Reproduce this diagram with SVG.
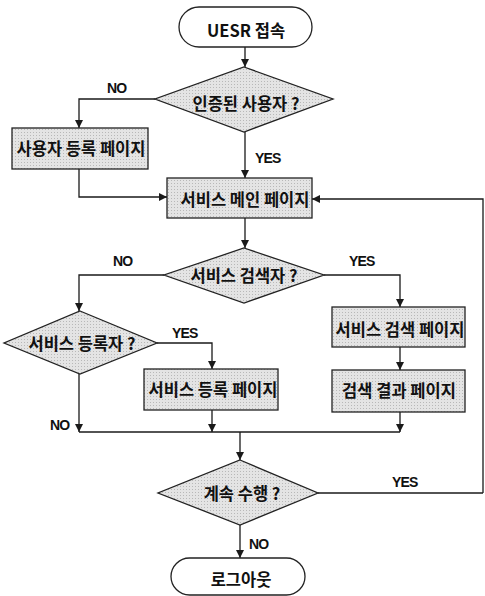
<svg xmlns="http://www.w3.org/2000/svg" width="485" height="596" viewBox="0 0 485 596">
<defs>
<pattern id="dots" width="3" height="3" patternUnits="userSpaceOnUse">
<rect width="3" height="3" fill="#e4e4e4"/>
<rect width="1" height="1" fill="#b8b8b8"/>
</pattern>
<marker id="ah" viewBox="0 0 10 10" refX="10" refY="5" markerWidth="8" markerHeight="8" markerUnits="userSpaceOnUse" orient="auto">
<path d="M0,0 L10,5 L0,10 z" fill="#1a1a1a"/>
</marker>
</defs>
<style>
.term{fill:#ffffff;stroke:#222;stroke-width:1.3}
.proc{fill:url(#dots);stroke:#222;stroke-width:1.3}
.dec{fill:url(#dots);stroke:#222;stroke-width:1.3}
.t{font-family:"Noto Sans CJK KR","Noto Sans",sans-serif;font-weight:bold;font-size:16.5px;fill:#111;text-anchor:middle}
.lbl{font-family:"Liberation Sans",Arial,sans-serif;font-weight:bold;font-size:14px;fill:#111;letter-spacing:-0.8px}
.c{fill:none;stroke:#1a1a1a;stroke-width:1.3}
.ca{fill:none;stroke:#1a1a1a;stroke-width:1.3;marker-end:url(#ah)}
</style>
<rect width="485" height="596" fill="#ffffff"/>
<g id="connectors">
<path class="ca" d="M245,47 L245,67"/>
<path class="ca" d="M155,99 L79,99 L79,128"/>
<path class="ca" d="M245,132 L245,178"/>
<path class="ca" d="M79,169 L79,197 L167,197"/>
<path class="ca" d="M483,493 L483,199 L312,199"/>
<path class="ca" d="M245,218 L245,248"/>
<path class="ca" d="M164,275 L79,275 L79,311"/>
<path class="ca" d="M324,275 L400,275 L400,307"/>
<path class="ca" d="M400,347 L400,370"/>
<path class="ca" d="M157,343 L212,343 L212,369"/>
<path class="ca" d="M79,374 L79,432"/>
<path class="c" d="M79,432 L400,432"/>
<path class="ca" d="M212,410 L212,432"/>
<path class="ca" d="M400,412 L400,432"/>
<path class="ca" d="M240,432 L240,460"/>
<path class="c" d="M318,493 L483,493"/>
<path class="ca" d="M240,525 L240,558"/>
<text class="lbl" x="107" y="93">NO</text>
<text class="lbl" x="255" y="163">YES</text>
<text class="lbl" x="113" y="266">NO</text>
<text class="lbl" x="349" y="266">YES</text>
<text class="lbl" x="172" y="338">YES</text>
<text class="lbl" x="50" y="430">NO</text>
<text class="lbl" x="392" y="487">YES</text>
<text class="lbl" x="249" y="549">NO</text>
</g>
<g id="start">
<rect class="term" x="179" y="7" width="133" height="40" rx="20" ry="20"/>
<text class="t" x="246" y="37">UESR 접속</text>
</g>
<g id="auth">
<polygon class="dec" points="244,67 333,99 244,132 155,99"/>
<text class="t" x="246" y="110">인증된 사용자 ?</text>
</g>
<g id="register-user">
<rect class="proc" x="12" y="128" width="136" height="41"/>
<text class="t" x="81" y="155">사용자 등록 페이지</text>
</g>
<g id="main">
<rect class="proc" x="167" y="178" width="145" height="40"/>
<text class="t" x="245" y="206">서비스 메인 페이지</text>
</g>
<g id="searcher">
<polygon class="dec" points="244,248 324,275 244,303 164,275"/>
<text class="t" x="244" y="282">서비스 검색자 ?</text>
</g>
<g id="search-page">
<rect class="proc" x="332" y="307" width="133" height="40"/>
<text class="t" x="400" y="336">서비스 검색 페이지</text>
</g>
<g id="result-page">
<rect class="proc" x="332" y="370" width="133" height="42"/>
<text class="t" x="399" y="397">검색 결과 페이지</text>
</g>
<g id="registrant">
<polygon class="dec" points="80,311 157,343 80,374 4,343"/>
<text class="t" x="82" y="350">서비스 등록자 ?</text>
</g>
<g id="register-service">
<rect class="proc" x="144" y="369" width="134" height="41"/>
<text class="t" x="213" y="396">서비스 등록 페이지</text>
</g>
<g id="continue">
<polygon class="dec" points="240,460 318,493 240,525 158,493"/>
<text class="t" x="242" y="500">계속 수행 ?</text>
</g>
<g id="logout">
<rect class="term" x="171" y="558" width="134" height="37" rx="18.5" ry="18.5"/>
<text class="t" x="241" y="586">로그아웃</text>
</g>
</svg>
